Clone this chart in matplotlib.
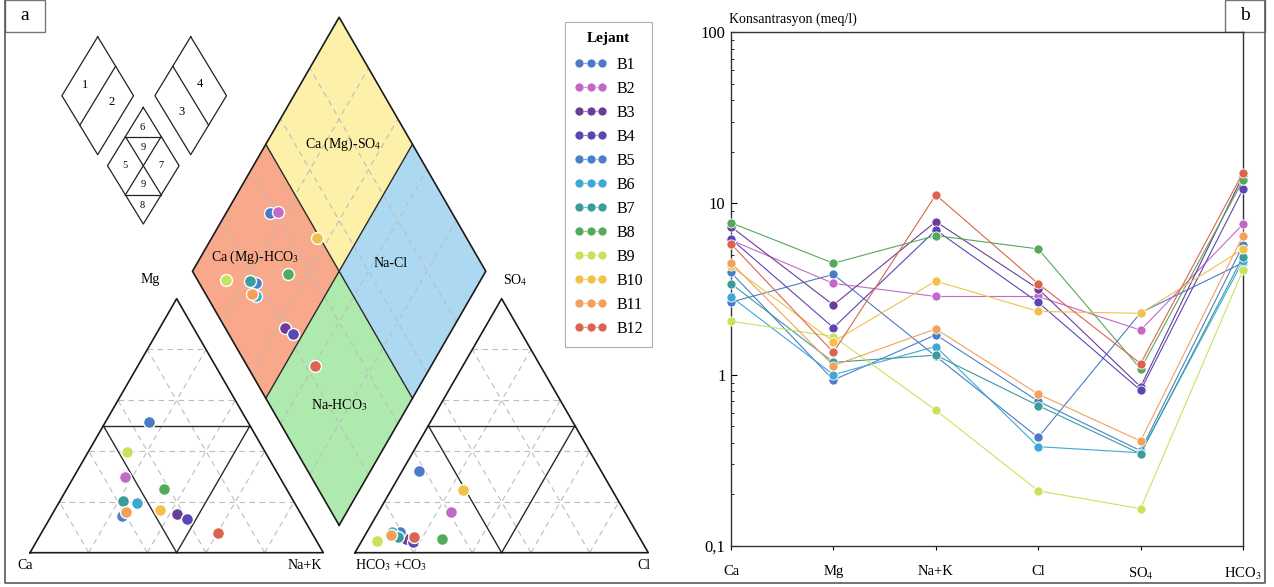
import numpy as np
import matplotlib.pyplot as plt
from matplotlib.patches import Polygon, Rectangle

plt.rcParams['font.family'] = ['Liberation Serif', 'DejaVu Serif']
plt.rcParams['mathtext.fontset'] = 'stix'

samples = ['B1', 'B2', 'B3', 'B4', 'B5', 'B6', 'B7', 'B8', 'B9', 'B10', 'B11', 'B12']
colors = ['#4b7bc6', '#c468c8', '#6b3d98', '#5a47b5', '#4a80c9', '#3ea8d4',
          '#3a9c9c', '#55a95a', '#c9e25c', '#f2c14a', '#f2a05c', '#db6450']

# Schoeller, meq/l
ions = ['Ca', 'Mg', 'Na+K', 'Cl', 'SO$_4$', 'HCO$_3$']
ca = [2.65, 6.1, 7.3, 6.2, 3.95, 2.85, 3.4, 7.7, 2.05, 4.3, 4.5, 5.8]
mg = [3.85, 3.41, 2.55, 1.88, 0.93, 1.0, 1.18, 4.47, 1.67, 1.56, 1.13, 1.35]
na_k = [1.28, 2.86, 7.82, 6.98, 1.71, 1.46, 1.30, 6.48, 0.62, 3.52, 1.85, 11.2]
cl = [0.43, 2.86, 3.17, 2.64, 0.70, 0.38, 0.66, 5.42, 0.21, 2.34, 0.77, 3.40]
so4 = [2.3, 1.82, 0.85, 0.81, 0.36, 0.35, 0.345, 1.08, 0.165, 2.28, 0.41, 1.16]
hco3 = [4.5, 7.55, 14.5, 12.1, 5.7, 4.61, 4.89, 13.6, 4.08, 5.41, 6.48, 15.1]

# Piper, % of meq/l
mg_pct = [51.6, 29.9, 15.1, 13.4, 14.4, 19.7, 20.5, 25.0, 39.8, 16.8, 16.0, 7.6]
nak_pct = [14.8, 17.4, 42.7, 46.7, 24.1, 26.5, 21.6, 33.2, 13.1, 35.9, 24.7, 60.4]
so4_pct = [32.1, 16.1, 5.3, 4.4, 8.0, 8.2, 6.3, 5.3, 4.7, 24.6, 6.8, 6.3]
cl_pct = [5.7, 24.6, 14.9, 17.5, 11.5, 8.4, 11.5, 26.9, 5.0, 24.5, 9.0, 16.9]

W, H_PX = 1274, 587
fig = plt.figure(figsize=(W / 100, H_PX / 100), dpi=100)

# ---- background: frames, panel letters, key diagram (pixel coords)
ax_bg = fig.add_axes([0, 0, 1, 1])
ax_bg.set_xlim(0, W)
ax_bg.set_ylim(H_PX, 0)
ax_bg.axis('off')

frame_c = '#5a5a5a'
ax_bg.plot([5, 5, 1265, 1265], [0, 583, 583, 0], color=frame_c, lw=1.2)
for x0, letter in [(5, 'a'), (1225, 'b')]:
    ax_bg.add_patch(Rectangle((x0, 0), 40, 32, fill=False, ec='#777777', lw=1.0))
    ax_bg.text(x0 + 20, 15, letter, ha='center', va='center', fontsize=14)


def rhombus(ax, cx, cy, hw, hh):
    ax.plot([cx, cx + hw, cx, cx - hw, cx], [cy - hh, cy, cy + hh, cy, cy - hh],
            color='#222222', lw=0.9)


key_lw = dict(color='#222222', lw=0.9)
# 1-2
cx, cy, hw, hh = 97.7, 95.7, 35.8, 59
rhombus(ax_bg, cx, cy, hw, hh)
ax_bg.plot([cx + hw / 2, cx - hw / 2], [cy - hh / 2, cy + hh / 2], **key_lw)
ax_bg.text(cx - 12.7, cy - 10.7, '1', ha='center', va='center', fontsize=9)
ax_bg.text(cx + 14, cy + 6, '2', ha='center', va='center', fontsize=9)
# 3-4
cx = 190.7
rhombus(ax_bg, cx, cy, hw, hh)
ax_bg.plot([cx - hw / 2, cx + hw / 2], [cy - hh / 2, cy + hh / 2], **key_lw)
ax_bg.text(cx + 9.3, cy - 11.7, '4', ha='center', va='center', fontsize=9)
ax_bg.text(cx - 9, cy + 16, '3', ha='center', va='center', fontsize=9)
# 5-9
cx, cy, hh = 143.3, 165.7, 58.3
rhombus(ax_bg, cx, cy, hw, hh)
ax_bg.plot([cx - hw / 2, cx + hw / 2], [cy - hh / 2, cy - hh / 2], **key_lw)
ax_bg.plot([cx - hw / 2, cx + hw / 2], [cy + hh / 2, cy + hh / 2], **key_lw)
ax_bg.plot([cx - hw / 2, cx + hw / 2], [cy - hh / 2, cy + hh / 2], **key_lw)
ax_bg.plot([cx + hw / 2, cx - hw / 2], [cy - hh / 2, cy + hh / 2], **key_lw)
for dx, dy, t in [(-1, -38, '6'), (0, -18, '9'), (-18, 0, '5'), (18, 0, '7'),
                  (0, 18.6, '9'), (-1, 40, '8')]:
    ax_bg.text(cx + dx, cy + dy, t, ha='center', va='center', fontsize=7.5)

# ---- Piper diagram (ternary units, side = 100)
S = 2.933                 # px per unit
X0, Y0 = 30, H_PX - 552.7  # px of the Ca corner
ax_p = fig.add_axes([0, 0, 1, 1])
ax_p.set_xlim(-X0 / S, (W - X0) / S)
ax_p.set_ylim(-Y0 / S, (H_PX - Y0) / S)
ax_p.axis('off')
ax_p.patch.set_visible(False)

H = np.sqrt(3) / 2
OFF = 110.8
XB, YB = (100 + OFF) / 2, (OFF - 100) * H


def cat_xy(m, n):
    return n + m / 2, m * H


def an_xy(s, c):
    return OFF + c + s / 2, s * H


def dia_xy(cm, a):
    return XB + (a - cm) / 2, YB + H * (a + cm)


grid_kw = dict(color='#bdbdbd', lw=0.8, ls=(0, (5, 4)), zorder=2)
line_kw = dict(color='#2a2a2a', lw=1.0, zorder=3)
edge_kw = dict(color='#1a1a1a', lw=1.2, zorder=3)


def seg(f, p, q, **kw):
    (x1, y1), (x2, y2) = f(*p), f(*q)
    ax_p.plot([x1, x2], [y1, y2], **kw)


for f in (cat_xy, an_xy):
    for p in (20, 40, 60, 80):
        seg(f, (p, 0), (p, 100 - p), **grid_kw)
        seg(f, (0, p), (100 - p, p), **grid_kw)
        seg(f, (0, 100 - p), (100 - p, 0), **grid_kw)
    seg(f, (50, 0), (50, 50), **line_kw)
    seg(f, (50, 0), (0, 50), **line_kw)
    seg(f, (0, 50), (50, 50), **line_kw)
    pts = [f(0, 0), f(0, 100), f(100, 0), f(0, 0)]
    ax_p.plot([q[0] for q in pts], [q[1] for q in pts], **edge_kw)

# diamond quadrants
quad = [((50, 100), (0, 50), '#f8a98b'),
        ((50, 100), (50, 100), '#fdf0a9'),
        ((0, 50), (50, 100), '#acd9f1'),
        ((0, 50), (0, 50), '#aeeaae')]
for (c1, c2), (a1, a2), fc in quad:
    corners = [dia_xy(c1, a1), dia_xy(c2, a1), dia_xy(c2, a2), dia_xy(c1, a2)]
    ax_p.add_patch(Polygon(corners, closed=True, fc=fc, ec='none', zorder=1))
for p in (20, 40, 60, 80):
    seg(dia_xy, (p, 0), (p, 100), **grid_kw)
    seg(dia_xy, (0, p), (100, p), **grid_kw)
seg(dia_xy, (50, 0), (50, 100), **line_kw)
seg(dia_xy, (0, 50), (100, 50), **line_kw)
pts = [dia_xy(0, 0), dia_xy(100, 0), dia_xy(100, 100), dia_xy(0, 100), dia_xy(0, 0)]
ax_p.plot([q[0] for q in pts], [q[1] for q in pts], **edge_kw)

lab_kw = dict(textcoords='offset pixels', fontsize=10, va='center')
ax_p.annotate('Mg', cat_xy(100, 0), xytext=(-26, 19), ha='center', **lab_kw)
ax_p.annotate('Ca', cat_xy(0, 0), xytext=(-4.5, -12.5), ha='center', **lab_kw)
ax_p.annotate('Na+K', cat_xy(0, 100), xytext=(-1, -12.5), ha='right', **lab_kw)
ax_p.annotate('SO$_4$', an_xy(100, 0), xytext=(14, 19), ha='center', **lab_kw)
ax_p.annotate('HCO$_3$ +CO$_3$', an_xy(0, 0), xytext=(0, -12.5), ha='left', **lab_kw)
ax_p.annotate('Cl', an_xy(0, 100), xytext=(2, -12.5), ha='right', **lab_kw)
ax_p.annotate('Ca (Mg)-SO$_4$', dia_xy(75, 75), xytext=(4, 0), ha='center', **lab_kw)
ax_p.annotate('Ca (Mg)-HCO$_3$', dia_xy(75, 25), xytext=(-11, 14), ha='center', **lab_kw)
ax_p.annotate('Na-Cl', dia_xy(25, 75), xytext=(-22, 8), ha='center', **lab_kw)
ax_p.annotate('Na-HCO$_3$', dia_xy(25, 25), xytext=(0, -7), ha='center', **lab_kw)

mk = dict(marker='o', ms=8.6, mec='white', mew=1.0, ls='none', zorder=5)
for i in range(len(samples)):
    cx_, cy_ = cat_xy(mg_pct[i], nak_pct[i])
    ax_x, ax_y = an_xy(so4_pct[i], cl_pct[i])
    dx_, dy_ = dia_xy(100 - nak_pct[i], so4_pct[i] + cl_pct[i])
    ax_p.plot([cx_, ax_x, dx_], [cy_, ax_y, dy_], color=colors[i], **mk)

# ---- Schoeller diagram
ax_s = fig.add_axes([731 / W, 1 - 546 / H_PX, 512 / W, 514 / H_PX])
handles = []
for i in range(len(samples)):
    vals = [ca[i], mg[i], na_k[i], cl[i], so4[i], hco3[i]]
    h, = ax_s.plot(range(len(ions)), vals, color=colors[i], lw=0.8, marker='o',
                   ms=6.6, mec='white', mew=0.6, clip_on=False, zorder=3)
    handles.append(h)

ax_s.set_yscale('log')
ax_s.set_ylim(0.1, 100)
ax_s.set_xlim(0, len(ions) - 1)
ax_s.set_yticks([0.1, 1, 10, 100])
ax_s.set_yticklabels(['0,1', '1', '10', '100'])
ax_s.set_xticks(range(len(ions)))
ax_s.set_xticklabels(ions)
ax_s.tick_params(axis='y', which='major', direction='in', length=4, labelsize=12, pad=4)
ax_s.tick_params(axis='y', which='minor', direction='in', length=2.5)
ax_s.tick_params(axis='x', direction='out', length=3, labelsize=10.5, pad=11)
for sp in ax_s.spines.values():
    sp.set_color('#333333')
    sp.set_linewidth(1.0)
ax_s.text(-0.004, 1.012, 'Konsantrasyon (meq/l)', transform=ax_s.transAxes,
          ha='left', va='bottom', fontsize=10)

leg = fig.legend(handles, samples, loc='upper left',
                 bbox_to_anchor=(565 / W, 1 - 22 / H_PX), borderaxespad=0,
                 frameon=True, fancybox=False, edgecolor='#9a9a9a',
                 fontsize=11.5, title='Lejant',
                 title_fontproperties={'weight': 'bold', 'size': 11},
                 numpoints=3, handlelength=2.0, handletextpad=0.6,
                 labelspacing=0.5, borderpad=0.6)
leg.get_frame().set_linewidth(0.8)
# a little more room between the title and the first entry
leg._legend_box.sep = 9

fig.savefig('out.png', dpi=100)
